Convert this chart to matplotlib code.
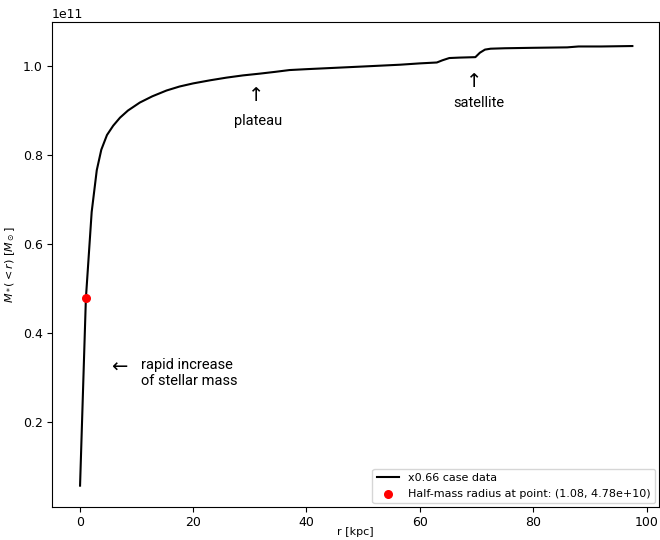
import matplotlib
matplotlib.use("Agg")
import matplotlib.pyplot as plt
import numpy as np

# Enclosed stellar mass profile (mass in units of 1e11 Msun)
radius_kpc = [0.05, 1.08, 2.1, 3.0, 3.8, 4.8, 5.9, 7.1, 8.5, 10.6, 12.8, 15.3,
              17.6, 20.0, 23.0, 25.9, 28.8, 31.8, 34.5, 37.0, 40.0, 45.0, 50.0,
              56.5, 60.0, 63.0, 64.0, 65.2, 67.0, 69.8, 70.6, 71.5, 72.5, 75.0,
              80.0, 86.0, 88.0, 92.0, 97.5]
mass_e11 = [0.057, 0.478, 0.672, 0.766, 0.812, 0.845, 0.866, 0.884, 0.900,
            0.918, 0.932, 0.945, 0.954, 0.961, 0.968, 0.974, 0.979, 0.983,
            0.987, 0.991, 0.993, 0.996, 0.999, 1.003, 1.006, 1.008, 1.013,
            1.018, 1.019, 1.020, 1.030, 1.037, 1.039, 1.040, 1.041, 1.042,
            1.044, 1.044, 1.045]

half_r = 1.08
half_m = 4.78e10

r = np.array(radius_kpc)
m = np.array(mass_e11) * 1e11

fig = plt.figure(figsize=(6.6, 5.4), dpi=100)
ax = fig.add_axes([52 / 660, 33 / 540, 607 / 660, 485 / 540])

ax.plot(r, m, color="black", lw=1.5, label="x0.66 case data")
ax.scatter([half_r], [half_m], color="red", s=30, zorder=3,
           label=f"Half-mass radius at point: ({half_r:.2f}, {half_m:.2e})")

ax.set_xlim(-4.9, 102.2)
ax.set_ylim(0.009e11, 1.099e11)
ax.set_xticks([0, 20, 40, 60, 80, 100])
ax.set_yticks(np.array([0.2, 0.4, 0.6, 0.8, 1.0]) * 1e11)
ax.tick_params(labelsize=9, pad=3)
ax.yaxis.get_offset_text().set_fontsize(9)

ax.set_xlabel("r [kpc]", fontsize=8)
ax.xaxis.set_label_coords(0.5, -0.042)
ax.set_ylabel(r"$M_*(<r)\ [M_\odot]$", fontsize=8)

note_font = ["Roboto", "DejaVu Sans"]
ax.text(31.1, 0.932e11, "↑", fontsize=14, ha="center", va="center", family=note_font)
ax.text(31.4, 0.876e11, "plateau", fontsize=10.5, ha="center", va="center", family=note_font)
ax.text(69.6, 0.964e11, "↑", fontsize=14, ha="center", va="center", family=note_font)
ax.text(70.4, 0.917e11, "satellite", fontsize=10.5, ha="center", va="center", family=note_font)
ax.text(7.0, 0.321e11, "←", fontsize=14, ha="center", va="center", family=note_font)
ax.text(10.8, 0.311e11, "rapid increase\nof stellar mass", fontsize=10.5,
        ha="left", va="center", family=note_font, linespacing=1.2)

ax.legend(loc="lower right", fontsize=8, borderaxespad=0.35)

fig.savefig("out.png", dpi=100)
